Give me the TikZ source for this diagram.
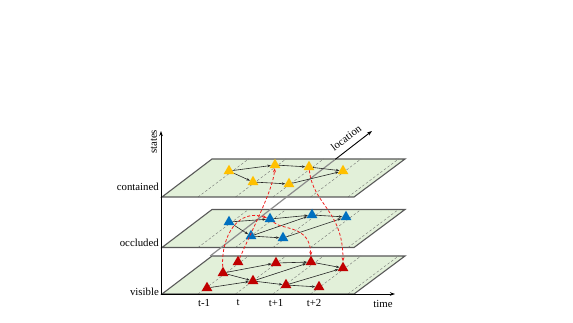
\documentclass[tikz,border=0pt]{standalone}
\usepackage{fontspec}
\setmainfont{Liberation Serif}
\usetikzlibrary{arrows.meta,shapes.geometric,calc}
\definecolor{planefill}{HTML}{E2F0D9}
\definecolor{planeedge}{HTML}{595959}
\definecolor{cont}{HTML}{FFC000}
\definecolor{occl}{HTML}{0070C0}
\definecolor{visi}{HTML}{C00000}
\definecolor{trans}{HTML}{F02020}
\begin{document}
\begin{tikzpicture}[x=1pt,y=-1pt,
  plane/.style={fill=planefill,draw=planeedge,line width=1.1pt,line join=miter},
  griddash/.style={draw=black!60,line width=0.35pt,dash pattern=on 2.5pt off 2pt},
  locline/.style={draw=black!45,line width=1.2pt},
  axisline/.style={draw=black,line width=0.9pt,-{Stealth[length=5pt,width=3.5pt]}},
  tri/.style={regular polygon,regular polygon sides=3,minimum size=12.5pt,inner sep=0pt,fill=#1,draw=none},
  edge/.style={draw=black!85,line width=0.6pt,-{Stealth[length=3.5pt,width=2.6pt]}},
  reddash/.style={draw=trans,line width=0.8pt,dash pattern=on 3pt off 2pt,-{Stealth[length=4pt,width=3pt]}},
  lbl/.style={font=\fontsize{10.8}{13}\selectfont,inner sep=0pt},
]
\useasboundingbox (0,0) rectangle (573,323);

% planes
\draw[plane] (162,294) -- (354,294) -- (405,256) -- (212,256) -- cycle;
\draw[plane] (162,247.5) -- (354,247.5) -- (405,209.5) -- (212,209.5) -- cycle;
\draw[plane] (162,197) -- (354,197) -- (405,159) -- (212,159) -- cycle;

% time grid on planes
\foreach \yb/\yt in {294/256, 247.5/209.5, 197/159}
  \foreach \x in {198,235.5,273,310.5,348}
    \draw[griddash] (\x,\yb) -- (\x+50.5,\yt);

% axes
\coordinate (O) at (161,294);
\coordinate (Ytip) at (161,131);
\coordinate (Xtip) at (395,294);
\coordinate (Ltip) at (372,131);
\coordinate (Lin) at ($(O)!0.233!(Ltip)$);
\coordinate (Lout) at ($(O)!0.826!(Ltip)$);
\draw[locline] (Lin) -- (Lout);
\draw[axisline] (Lout) -- (Ltip);
\draw[axisline] (O) -- (Ytip);
\draw[axisline] (O) -- (Xtip);

% labels
\node[lbl,rotate=90] (lstates) at (154,142) {states};
\node[lbl,rotate=37] (lloc) at (346,138) {location};
\node[lbl,anchor=east] (lcont) at (159,187) {contained};
\node[lbl,anchor=east] (locc) at (159,243) {occluded};
\node[lbl,anchor=east] (lvis) at (159,292) {visible};
\node[lbl] (ltm1) at (204,303) {t-1};
\node[lbl] (lt) at (238,303) {t};
\node[lbl] (ltp1) at (276,303) {t+1};
\node[lbl] (ltp2) at (314,303) {t+2};
\node[lbl] (ltime) at (383,304) {time};

% contained nodes
\node[tri=cont] (A1) at (229,171) {};
\node[tri=cont] (A2) at (275,165) {};
\node[tri=cont] (A3) at (309,167) {};
\node[tri=cont] (A4) at (343,171) {};
\node[tri=cont] (A5) at (253,182) {};
\node[tri=cont] (A6) at (289,184) {};
% occluded nodes
\node[tri=occl] (B1) at (229,222) {};
\node[tri=occl] (B2) at (270,219) {};
\node[tri=occl] (B3) at (312,215) {};
\node[tri=occl] (B4) at (346,217) {};
\node[tri=occl] (B5) at (251,236) {};
\node[tri=occl] (B6) at (283,238) {};
% visible nodes
\node[tri=visi] (C1) at (207,288) {};
\node[tri=visi] (C2) at (223,273) {};
\node[tri=visi] (C3) at (238,262) {};
\node[tri=visi] (C4) at (253,281) {};
\node[tri=visi] (C5) at (276,263) {};
\node[tri=visi] (C6) at (286,285) {};
\node[tri=visi] (C7) at (311,262) {};
\node[tri=visi] (C8) at (343,268) {};
\node[tri=visi] (C9) at (319,287) {};

% in-plane edges
\draw[edge] (A1) -- (A2);
\draw[edge] (A2) -- (A3);
\draw[edge] (A3) -- (A4);
\draw[edge] (A1) -- (A5);
\draw[edge] (A5) -- (A6);
\draw[edge] (A6) -- (A4);

\draw[edge] (B1) -- (B2);
\draw[edge] (B2) -- (B3);
\draw[edge] (B3) -- (B4);
\draw[edge] (B1) -- (B5);
\draw[edge] (B5) -- (B3);
\draw[edge] (B5) -- (B6);
\draw[edge] (B6) -- (B4);

\draw[edge] (C1) -- (C4);
\draw[edge] (C2) -- (C4);
\draw[edge] (C2) -- (C5);
\draw[edge] (C4) -- (C7);
\draw[edge] (C5) -- (C7);
\draw[edge] (C4) -- (C6);
\draw[edge] (C6) -- (C9);
\draw[edge] (C6) -- (C8);
\draw[edge] (C7) -- (C8);

% state transitions
\draw[reddash] (C2) .. controls (221,236) and (238,208) .. (B2);
\draw[reddash] (C3) .. controls (252,230) and (273,190) .. (A2);
\draw[reddash] (B2) .. controls (282,230) and (310,225) .. (C7);
\draw[reddash] (A3) .. controls (313,205) and (343,210) .. (C8);
\end{tikzpicture}
\end{document}
